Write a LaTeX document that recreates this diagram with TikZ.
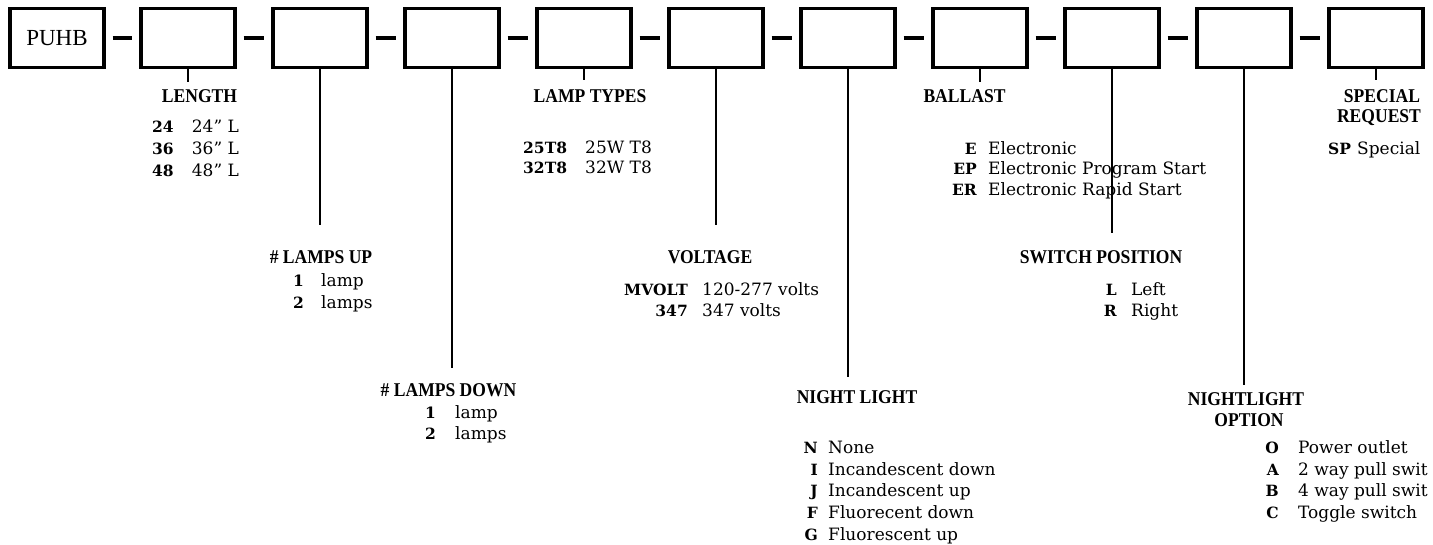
\documentclass[tikz,border=0pt]{standalone}
\usepackage{fontspec}
\setmainfont{DejaVu Serif}
\newfontfamily\hfont[FakeStretch=0.9]{Liberation Serif}
\newfontfamily\pfont{Liberation Serif}
\newcommand\orow[7]{%
  \node[code,anchor=base #3] (#1c) at (#2,#5) {#6};
  \node[desc] (#1d) at (#4,#5) {#7};}
\newcommand\inch{\symbol{34}}
\begin{document}
\begin{tikzpicture}[x=1pt,y=-1pt,
  box/.style={draw,line width=3.2pt,minimum width=94pt,minimum height=59pt,inner sep=0pt},
  joinline/.style={line width=3.2pt,shorten <=7pt,shorten >=7pt},
  lead/.style={line width=1.1pt},
  head/.style={font=\hfont\bfseries\fontsize{19.5}{22}\selectfont,inner sep=0pt,anchor=base},
  code/.style={font=\bfseries\fontsize{15.5}{18}\selectfont,inner sep=0pt},
  desc/.style={font=\fontsize{17}{20}\selectfont,inner sep=0pt,anchor=base west}]
\useasboundingbox (0,0) rectangle (1433,544);
% boxes
\node[box,font=\pfont\fontsize{23}{26}\selectfont] (b1) at (57,38) {PUHB};
\foreach \i in {2,...,11} \node[box] (b\i) at ({56+132*(\i-1)},38) {};
\foreach \i [evaluate=\i as \j using int(\i+1)] in {1,...,10}
  \draw[joinline] (b\i.east) -- (b\j.west);
% leader ends
\coordinate (e2) at (188,82);
\coordinate (e3) at (320,225);
\coordinate (e4) at (452,368);
\coordinate (e5) at (584,80);
\coordinate (e6) at (716,225);
\coordinate (e7) at (848,377);
\coordinate (e8) at (980,82);
\coordinate (e9) at (1112,233);
\coordinate (e10) at (1244,385);
\coordinate (e11) at (1376,80);
\foreach \i in {2,...,11} \draw[lead] (b\i.south) -- (e\i);
% headings
\node[head] (h2) at (199.5,102.7) {LENGTH};
\node[head] (h3) at (321,263.3) {\# LAMPS UP};
\node[head] (h4) at (448.5,396.7) {\# LAMPS DOWN};
\node[head] (h5) at (590,102) {LAMP TYPES};
\node[head] (h6) at (710,263.3) {VOLTAGE};
\node[head] (h7) at (857,403.3) {NIGHT LIGHT};
\node[head] (h8) at (964.5,102) {BALLAST};
\node[head] (h9) at (1101,263.3) {SWITCH POSITION};
\node[head] (h10a) at (1246,405) {NIGHTLIGHT};
\node[head] (h10b) at (1249,426.7) {OPTION};
\node[head] (h11a) at (1382,102.7) {SPECIAL};
\node[head] (h11b) at (1379,122.7) {REQUEST};
% options
\orow{la}{152}{west}{191.7}{132.7}{24}{24\inch{} L}
\orow{lb}{152}{west}{191.7}{154.3}{36}{36\inch{} L}
\orow{lc}{152}{west}{191.7}{176}{48}{48\inch{} L}
\orow{ua}{293}{west}{321}{286.7}{1}{lamp}
\orow{ub}{293}{west}{321}{308.3}{2}{lamps}
\orow{da}{425}{west}{455}{418.3}{1}{lamp}
\orow{db}{425}{west}{455}{439.5}{2}{lamps}
\orow{ta}{523}{west}{585}{153.3}{25T8}{25W T8}
\orow{tb}{523}{west}{585}{173.3}{32T8}{32W T8}
\orow{va}{688}{east}{702}{295}{MVOLT}{120-277 volts}
\orow{vb}{688}{east}{702}{316}{347}{347 volts}
\orow{na}{818}{east}{828}{453.3}{N}{None}
\orow{nb}{818}{east}{828}{475}{I}{Incandescent down}
\orow{nc}{818}{east}{828}{496.5}{J}{Incandescent up}
\orow{nd}{818}{east}{828}{518.3}{F}{Fluorecent down}
\orow{ne}{818}{east}{828}{540}{G}{Fluorescent up}
\orow{ba}{977}{east}{988}{154}{E}{Electronic}
\orow{bb}{977}{east}{988}{174.5}{EP}{Electronic Program Start}
\orow{bc}{977}{east}{988}{195}{ER}{Electronic Rapid Start}
\orow{sa}{1117}{east}{1131}{295}{L}{Left}
\orow{sb}{1117}{east}{1131}{316}{R}{Right}
\orow{oa}{1279}{east}{1298}{453.3}{O}{Power outlet}
\orow{ob}{1279}{east}{1298}{475}{A}{2 way pull swit}
\orow{oc}{1279}{east}{1298}{496.7}{B}{4 way pull swit}
\orow{od}{1279}{east}{1298}{518.3}{C}{Toggle switch}
\orow{pa}{1328}{west}{1357}{154}{SP}{Special}
\end{tikzpicture}
\end{document}
